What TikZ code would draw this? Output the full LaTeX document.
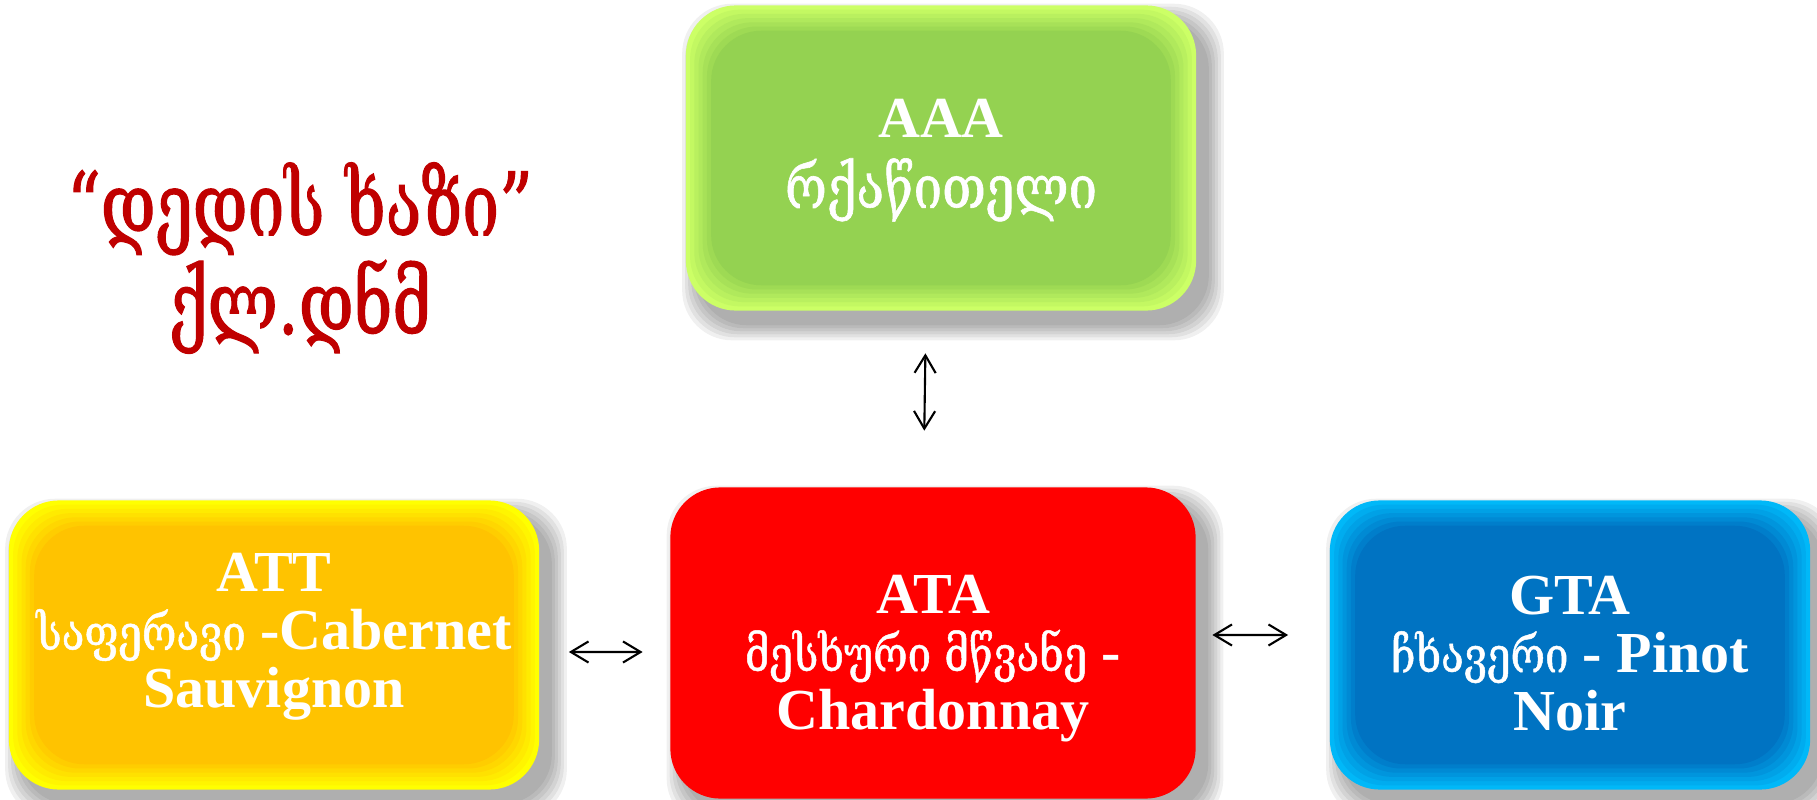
\documentclass[tikz,border=0pt]{standalone}
\usepackage{fontspec}
\setmainfont{Liberation Serif}
\newfontfamily\geofont[FakeStretch=0.85,FakeBold=1]{DejaVu Serif}
\newfontfamily\headfont[FakeStretch=0.75,FakeBold=1.2]{DejaVu Serif}
\usetikzlibrary{calc,arrows.meta,backgrounds}
\definecolor{leaf}{HTML}{92D050}
\definecolor{leafglow}{HTML}{CCFF66}
\definecolor{amber}{HTML}{FFC000}
\definecolor{amberglow}{HTML}{FFFF00}
\definecolor{wine}{HTML}{FF0000}
\definecolor{sea}{HTML}{0070C0}
\definecolor{seaglow}{HTML}{00B8F8}
\definecolor{headred}{HTML}{C00000}
\newcommand\geo[2][14]{{\geofont\mdseries\fontsize{#1}{16.5}\selectfont #2}}
\tikzset{
  box/.style n args={2}{rounded corners=0.5cm, fill=#2, text=white, align=center, inner sep=0pt,
    font=\fontsize{16.5}{16.5}\selectfont\bfseries, text depth=0pt,
    path picture={
      \foreach \k in {1,...,6}{
        \pgfmathtruncatemacro{\mix}{100-\k*16}
        \fill[#2!\mix!#1, rounded corners=0.5cm]
          ($(path picture bounding box.south west)+(\k*1.2pt,\k*1.2pt)$) rectangle
          ($(path picture bounding box.north east)-(\k*1.2pt,\k*1.2pt)$);
      }}},
  dbl/.style={{Straight Barb[length=5pt,width=6pt]}-{Straight Barb[length=5pt,width=6pt]}, line width=0.6pt},
  head/.style={text=headred, align=center, font=\headfont\fontsize{25}{28}\selectfont},
}
\begin{document}
\begin{tikzpicture}[x=0.01cm, y=-0.01cm]
\useasboundingbox (0,0) rectangle (1817,800);
\node[box={leaf}{leafglow}, minimum width=5.1cm, minimum height=3.05cm, text height=28.4pt] (aaa) at (941,158)
  {AAA\\[3.4pt]\geo[17]{რქაწითელი}};
\node[box={amber}{amberglow}, minimum width=5.3cm, minimum height=2.89cm, text height=35.8pt] (att) at (274,645)
  {ATT\\\geo{საფერავი} -Cabernet\\Sauvignon};
\node[box={wine}{wine}, minimum width=5.25cm, minimum height=3.11cm, text height=49pt] (ata) at (933,643)
  {ATA\\\geo{მესხური მწვანე} -\\Chardonnay};
\node[box={sea}{seaglow}, minimum width=4.8cm, minimum height=2.89cm, text height=48.4pt] (gta) at (1570,645)
  {GTA\\\geo{ჩხავერი} - Pinot\\Noir};
\node[head] (title) at (300,258) {“დედის ხაზი”\\ქლ.დნმ};
\draw[dbl, shorten <=0.42cm, shorten >=0.56cm] ([xshift=-0.15cm]aaa.south) -- ([xshift=-0.095cm]ata.north);
\draw[dbl, shorten <=0.29cm, shorten >=0.27cm] ([yshift=-0.07cm]att.east) -- ([yshift=-0.09cm]ata.west);
\draw[dbl, shorten <=0.16cm, shorten >=0.41cm] ([yshift=0.08cm]ata.east) -- ([yshift=0.10cm]gta.west);
\begin{scope}[on background layer]
\fill[white] (0,0) rectangle (1817,800);
\foreach \n in {aaa,att,ata,gta}
  \foreach \s in {0,...,5}
    \fill[black, opacity=0.06, rounded corners=0.5cm]
      ($(\n.south west)+(0.12cm-\s*0.03cm,-0.14cm-\s*0.03cm)$) rectangle
      ($(\n.north east)+(0.12cm+\s*0.03cm,-0.14cm+\s*0.03cm)$);
\end{scope}
\end{tikzpicture}
\end{document}
